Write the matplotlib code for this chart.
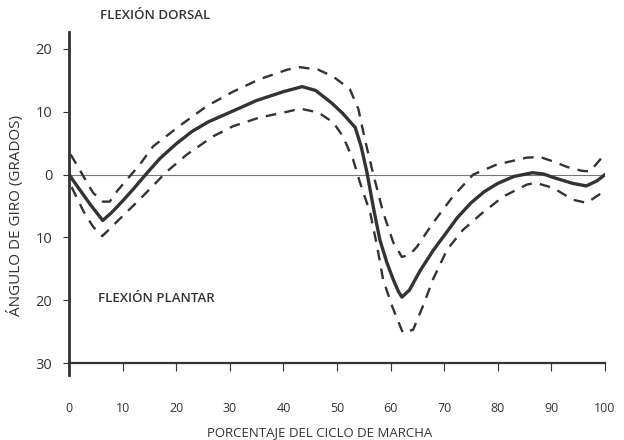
import matplotlib
matplotlib.use("Agg")
import matplotlib.pyplot as plt

# curva media (angulo del tobillo) y bandas de desviacion
x_media = [0, 2, 4, 6.3, 8, 10, 12, 14.6, 17, 20, 23, 26, 30, 35, 40, 43.5, 46,
           49, 51, 53.4, 54.5, 55.6, 56.8, 58, 59.3, 60.5, 61.4, 62.1, 63.5, 65.5,
           68, 70, 72.5, 75, 77.5, 80, 83, 86.5, 88.5, 90.5, 94, 96.5, 98.5, 100]
y_media = [0, -2.4, -4.8, -7.3, -6.0, -4.2, -2.3, 0.3, 2.6, 4.9, 6.9, 8.4, 9.9,
           11.8, 13.2, 14.0, 13.4, 11.4, 9.8, 7.5, 4.5, 0.3, -5.3, -10.4, -14.0,
           -16.7, -18.5, -19.5, -18.4, -15.3, -12.0, -9.7, -6.8, -4.5, -2.7, -1.4,
           -0.3, 0.3, 0.1, -0.5, -1.4, -1.8, -1.0, 0]

x_sup = [0.3, 1.5, 2.5, 4.5, 6.3, 7.6, 9, 10.8, 13.2, 15.7, 20.7, 25.7, 30.6,
         35.6, 40.7, 43.1, 46.5, 49.3, 52.4, 54, 55.2, 56.7, 58.6, 60.5, 62.1,
         63.5, 64.9, 67.9, 71.6, 75.4, 79.8, 85.4, 87.9, 90.3, 93, 95.7, 97.2, 99.4]
y_sup = [3.2, 1.5, 0, -2.9, -4.3, -4.3, -2.6, -0.8, 1.6, 4.5, 7.8, 10.9, 13.2,
         15.2, 16.7, 17.1, 16.7, 15.6, 13.6, 10.4, 5.6, 0.3, -6.0, -10.8, -13.1,
         -12.8, -11.5, -7.7, -3.5, 0, 1.6, 2.7, 2.8, 2.1, 1.2, 0.6, 0.5, 2.7]

x_inf = [0.5, 2.8, 4.5, 6.2, 8, 10, 13, 16, 18, 22, 26.9, 30.6, 35.6, 40.7,
         43.1, 46.5, 49.3, 51.1, 53, 54.3, 56.2, 57.5, 58.6, 60.3, 62.3, 64.2,
         66, 67.9, 70.5, 73.5, 76.7, 81, 85.4, 87, 90.3, 94, 96.6, 99.4]
y_inf = [-2.0, -6.0, -8.3, -9.8, -8.3, -6.6, -4.1, -1.5, 0.3, 3.2, 6.1, 7.7,
         9.1, 10.0, 10.5, 9.9, 8.3, 6.1, 2.4, -1.3, -6.1, -11.5, -16.7, -21.0,
         -25.2, -24.7, -21.0, -16.7, -12.0, -8.8, -6.4, -3.5, -1.6, -1.3, -2.1,
         -4.0, -4.5, -2.9]

y_ticks = [20, 10, 0, -10, -20, -30]
y_etiquetas = ["20", "10", "0", "10", "20", "30"]
x_ticks = [0, 10, 20, 30, 40, 50, 60, 70, 80, 90, 100]

gris = "#333333"
plt.rcParams["font.family"] = ["Open Sans", "DejaVu Sans"]

fig = plt.figure(figsize=(6.24, 4.4), dpi=100)
ax = fig.add_axes([69 / 624, 1 - 375 / 440, (605 - 69) / 624, (375 - 32) / 440])

ax.plot([0, 100], [0, 0], color="#777777", linewidth=0.8)
ax.plot(x_media, y_media, color=gris, linewidth=2.4, solid_joinstyle="round")
ax.plot(x_sup, y_sup, color=gris, linewidth=1.7, dashes=(4.5, 3.5))
ax.plot(x_inf, y_inf, color=gris, linewidth=1.7, dashes=(4.5, 3.5))

ax.set_xlim(0, 100)
ax.set_ylim(-31.9, 22.7)
ax.spines["top"].set_visible(False)
ax.spines["right"].set_visible(False)
ax.spines["bottom"].set_position(("data", -30))
ax.spines["left"].set_linewidth(2.0)
ax.spines["bottom"].set_linewidth(1.6)
ax.spines["left"].set_color(gris)
ax.spines["bottom"].set_color(gris)
ax.spines["bottom"].set_bounds(0, 100)

ax.set_yticks(y_ticks)
ax.set_yticklabels(y_etiquetas)
ax.set_xticks(x_ticks)
ax.tick_params(axis="y", length=4, width=0.8, pad=8, colors=gris, labelsize=10.5)
ax.tick_params(axis="x", length=6, width=0.8, pad=22, colors=gris, labelsize=9)

ax.set_xlabel("PORCENTAJE DEL CICLO DE MARCHA", fontsize=9.5, color=gris, va="center")
ax.xaxis.set_label_coords(0.467, -0.169)
ax.set_ylabel("ÁNGULO DE GIRO (GRADOS)", fontsize=11, color=gris, va="center")
ax.yaxis.set_label_coords(-0.099, 0.464)

ax.text(5.8, 25.3, "FLEXIÓN DORSAL", fontsize=9.5, color=gris,
        clip_on=False, fontweight="semibold", va="center")
ax.text(5.5, -19.8, "FLEXIÓN PLANTAR", fontsize=9.5, color=gris,
        va="center", fontweight="semibold")

fig.savefig("out.png", dpi=100)
